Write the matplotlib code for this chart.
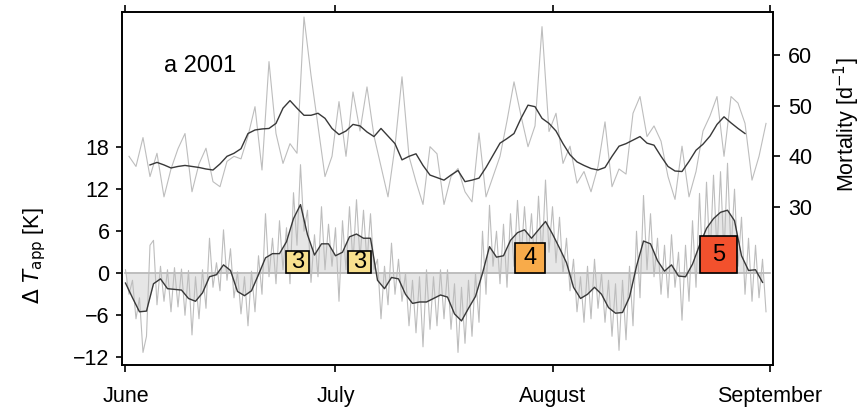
import numpy as np
import matplotlib
matplotlib.use("Agg")
import matplotlib.pyplot as plt
from matplotlib.patches import Rectangle

plt.rcParams['font.family'] = ['Liberation Sans', 'DejaVu Sans']

# 12-hourly apparent temperature anomaly [K], two values per day (June 1 .. Aug 31)
temp_raw_pairs = [
    [0.5, -3.0], [-1.0, -6.5], [-3.5, -11.3], [-9.0, 4.0], [4.7, -4.5],
    [1.0, -4.0], [0.5, -5.5], [0.8, -4.8], [0.6, -6.0], [0.4, -8.8],
    [-0.5, -6.5], [0.5, -5.0], [5.0, -2.0], [1.5, -2.5], [6.2, -1.0],
    [3.5, -3.5], [0.2, -5.8], [-0.5, -7.5], [0.3, -5.5], [2.5, -3.0],
    [8.5, -0.5], [5.0, -1.5], [7.5, 0.5], [6.5, -1.5], [11.5, 4.0],
    [15.5, 6.0], [9.0, -1.3], [5.5, -0.5], [9.5, 0.5], [7.0, 1.0],
    [6.5, -4.0], [7.5, 0.5], [9.5, 1.5], [10.5, 2.0], [9.0, 1.5],
    [8.5, 0.5], [2.0, -6.5], [1.0, -4.5], [4.3, -3.0], [2.0, -4.0],
    [0.0, -7.5], [-1.0, -8.5], [-0.5, -10.5], [0.5, -8.0], [-0.5, -7.5],
    [0.5, -6.5], [0.5, -8.0], [-1.5, -11.3], [-2.0, -10.0], [-1.0, -9.0],
    [0.0, -7.0], [6.0, -3.0], [9.7, 1.0], [6.0, -1.5], [7.0, -2.0],
    [8.5, 1.0], [10.4, 2.0], [9.5, 2.5], [8.5, 0.5], [11.0, 2.0],
    [13.3, 3.0], [9.5, 1.5], [8.0, 0.0], [5.0, -2.5], [2.0, -5.5],
    [-0.5, -7.0], [1.0, -6.5], [2.0, -5.0], [0.0, -7.0], [-1.0, -9.0],
    [-1.5, -11.0], [-1.0, -9.5], [1.0, -7.5], [6.0, -3.5], [11.1, 0.5],
    [8.5, -0.5], [5.0, -3.0], [4.0, -3.5], [5.5, -2.0], [3.0, -6.7],
    [4.0, -4.0], [7.5, -2.0], [11.4, 0.0], [13.0, 2.0], [14.0, 3.0],
    [14.5, 2.5], [15.7, 3.0], [12.0, 1.0], [8.0, -3.0], [5.0, -4.0],
    [4.0, -3.5], [2.0, -5.5],
]

# smoothed temperature anomaly [K], daily
temp_smooth = [
    -1.4, -3.5, -5.5, -5.4, -1.5, -0.8, -2.2, -2.3, -2.4, -3.6,
    -4.0, -2.8, -0.5, -0.2, 1.2, 0.4, -2.6, -3.2, -2.5, -0.2,
    2.2, 2.8, 2.8, 4.5, 7.8, 9.8, 5.5, 2.6, 4.2, 4.2,
    2.5, 3.0, 5.2, 5.6, 5.0, 5.0, -1.0, -2.2, -0.6, -0.8,
    -3.0, -4.3, -4.1, -4.1, -3.6, -3.1, -3.4, -5.8, -6.8, -5.0,
    -3.3, 0.0, 3.8, 2.3, 2.5, 4.7, 5.8, 6.2, 5.0, 6.2,
    7.4, 5.6, 3.6, 1.5, -2.0, -3.6, -3.0, -2.0, -3.0, -4.9,
    -5.7, -5.6, -3.4, 1.0, 4.6, 4.2, 1.8, 0.3, 1.2, -0.4,
    -0.5, 1.3, 4.0, 6.4, 7.8, 8.7, 9.0, 7.5, 2.5, 0.4,
    0.5, -1.3,
]

# daily mortality [1/d]
mort_raw = [
    40.0, 38.0, 43.7, 36.0, 40.6, 32.0, 37.5, 41.5, 44.5, 33.0,
    38.5, 41.6, 35.0, 34.0, 39.0, 40.0, 39.5, 44.0, 49.8, 37.3,
    58.7, 44.5, 38.6, 42.5, 40.6, 67.5, 56.0, 46.0, 36.0, 40.0,
    50.8, 40.0, 52.7, 45.0, 53.7, 44.0, 38.0, 32.0, 42.0, 55.7,
    40.0, 35.0, 30.5, 41.9, 40.5, 30.5, 36.0, 37.6, 33.0, 31.0,
    44.6, 32.0, 36.0, 40.0, 47.0, 54.7, 48.0, 41.9, 46.0, 65.6,
    44.9, 48.5, 38.6, 42.0, 34.7, 37.0, 33.0, 38.0, 46.8, 34.0,
    37.5, 36.5, 48.5, 51.8, 43.9, 46.0, 43.0, 36.0, 31.5, 42.0,
    32.0, 37.0, 45.0, 48.0, 51.8, 40.0, 51.8, 50.5, 46.5, 35.3,
    40.0, 46.5,
]

# smoothed mortality [1/d], days 3 .. 88
mort_smooth_start = 3
mort_smooth = [
    38.3, 38.8, 38.3, 37.7, 38.0, 38.2, 38.0, 37.8, 37.5, 37.3,
    38.5, 40.0, 40.6, 41.5, 44.5, 45.2, 45.4, 45.5, 46.5, 49.5,
    51.0, 49.5, 48.1, 48.1, 48.5, 47.5, 45.5, 44.3, 45.0, 46.3,
    46.0, 44.8, 43.9, 45.5, 44.0, 42.5, 39.3, 40.0, 40.5, 38.2,
    36.3, 35.8, 35.3, 36.3, 37.2, 35.0, 35.3, 35.7, 37.8, 40.2,
    42.6, 43.5, 44.5, 47.5, 50.1, 49.8, 47.5, 46.5, 45.0, 42.5,
    40.3, 38.9, 38.2, 37.6, 37.3, 37.8, 40.0, 42.0, 42.5, 43.2,
    43.9, 42.6, 42.2, 40.0, 38.0, 37.1, 37.0, 39.0, 41.2, 42.4,
    44.0, 46.3, 47.8, 46.6, 45.5, 44.5,
]

# heat waves: start day, level
wave_start = [23.0, 31.8, 55.6, 82.0]
wave_level = [3, 3, 4, 5]
level_colors = {3: '#f8e08e', 4: '#f8ab4a', 5: '#f2512d'}

month_days = [0, 30, 61, 92]
month_names = ['June', 'July', 'August', 'September']

# x-Werte
temp_raw = np.array(temp_raw_pairs).ravel()
t_raw = np.arange(len(temp_raw)) * 0.5
t_smooth = np.arange(len(temp_smooth))
t_mort = np.arange(len(mort_raw)) + 0.5
t_mort_s = np.arange(len(mort_smooth)) + mort_smooth_start + 0.5

fs = 15.5

fig = plt.figure(figsize=(8.67, 4.12), dpi=100)
ax = fig.add_axes([0.1407, 0.114, 0.7509, 0.857])

ax.fill_between(t_smooth, 0, temp_smooth, color='#e6e6e6', lw=0, zorder=1)
ax.plot([0, 92], [0, 0], color='#b3b3b3', lw=1.2, zorder=2)
ax.plot(t_raw, temp_raw, color='#bdbdbd', lw=0.8, zorder=3)
ax.plot(t_smooth, temp_smooth, color='#383838', lw=1.0, zorder=4)

# box side ~ level (in days and K)
for s, lev in zip(wave_start, wave_level):
    side = lev * 1.07
    ax.add_patch(Rectangle((s, 0), side, side, facecolor=level_colors[lev],
                           edgecolor='black', lw=1.2, zorder=6))
    ax.text(s + side / 2, side / 2, str(lev), ha='center', va='center',
            fontsize=17, zorder=7)

ax.set_xlim(-0.5, 92.5)
ax.set_ylim(-13.1, 37.3)
ax.set_yticks([-12, -6, 0, 6, 12, 18])
ax.set_yticklabels(['\u221212', '\u22126', '0', '6', '12', '18'])
ax.set_xticks(month_days)
ax.set_xticklabels(month_names)
ax.xaxis.set_ticks_position('both')
ax.tick_params(axis='x', which='both', direction='out', length=5,
               width=1.2, labelsize=fs, pad=10)
ax.tick_params(axis='y', direction='out', length=4, width=1.2, labelsize=fs, pad=5)
ax.set_ylabel(r'$\Delta\ T_{\rm app}$ [K]', fontsize=fs)
ax.yaxis.set_label_coords(-0.114, 0.31)
ax.text(0.065, 0.83, 'a 2001', transform=ax.transAxes, fontsize=17)

ax2 = ax.twinx()
ax2.plot(t_mort, mort_raw, color='#bdbdbd', lw=0.8)
ax2.plot(t_mort_s, mort_smooth, color='#383838', lw=1.0)
ax2.set_ylim(-1.2, 68.5)
ax2.set_yticks([30, 40, 50, 60])
ax2.tick_params(axis='y', direction='out', length=5, width=1.2, labelsize=fs, pad=6)
ax2.set_ylabel(r'Mortality [d$^{-1}$]', fontsize=fs)
ax2.yaxis.set_label_coords(1.09, 0.68)

for a in (ax, ax2):
    for sp in a.spines.values():
        sp.set_linewidth(1.2)

fig.savefig('out.png', dpi=100)
